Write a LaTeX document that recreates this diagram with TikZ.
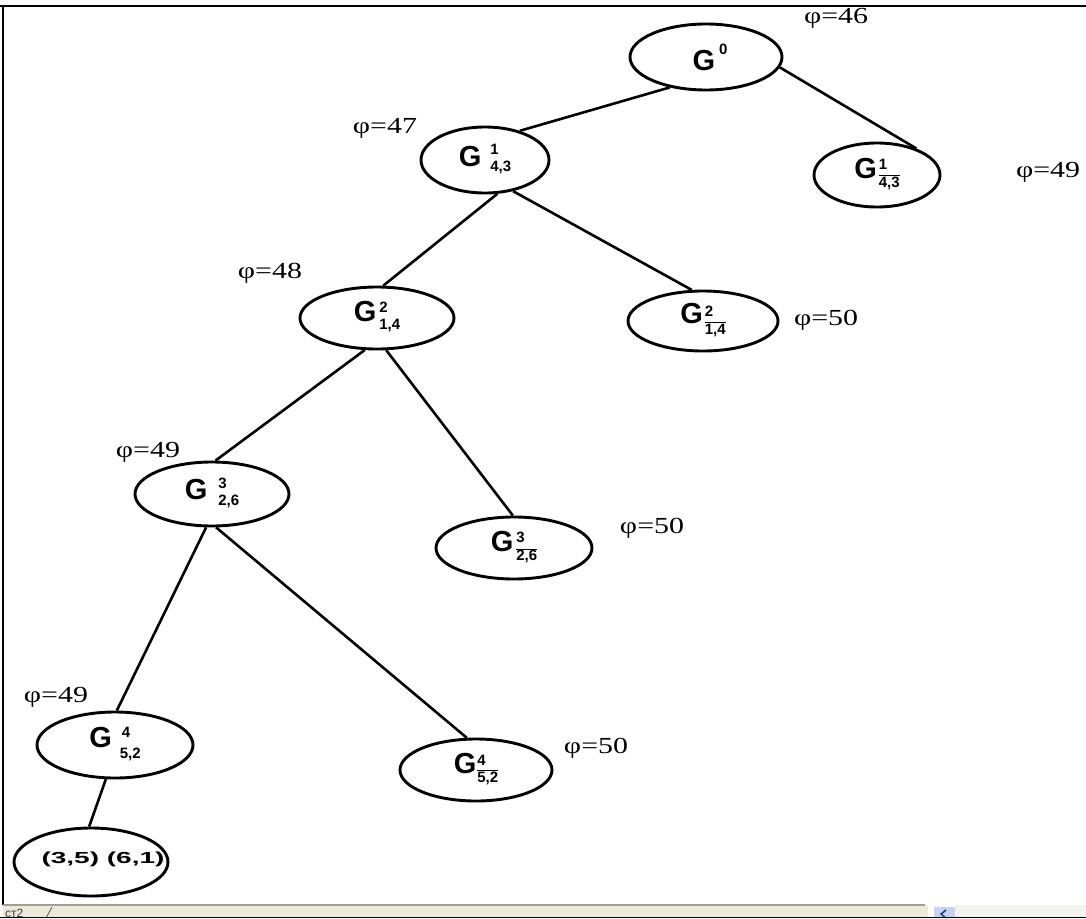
\documentclass[tikz,border=0pt]{standalone}
\usepackage{fontspec}
\setmainfont{Liberation Serif}
\setsansfont{Liberation Sans}
\usetikzlibrary{shapes.geometric}
% #1 kern, #2 raise, #3 gap, #4 sup, #5 sub
\newcommand{\gs}[5]{G\kern#1\raisebox{#2}{{\fontsize{15}{15}\selectfont\begin{tabular}[c]{@{}l@{}}#4\\[#3]#5\end{tabular}}}}
\newcommand{\phival}[1]{\scalebox{1.3}[1]{φ=#1}}
\tikzset{
  gnode/.style={ellipse, draw, line width=2.9pt, inner sep=0pt,
    font=\sffamily\bfseries\fontsize{29}{29}\selectfont},
  plabel/.style={font=\fontsize{23}{23}\selectfont, inner sep=0pt},
  edge/.style={line width=2.6pt},
}
\begin{document}
\begin{tikzpicture}[x=1pt,y=-1pt]
\useasboundingbox (0,0) rectangle (1086,918);
% frame
\draw[line width=2pt] (0,6) -- (1086,6);
\draw[line width=2pt] (3,6) -- (3,905);
\fill[fill={rgb,255:red,236;green,233;blue,216}] (3,905) rectangle (928,918);
\fill[fill={rgb,255:red,244;green,243;blue,238}] (955,905) rectangle (1086,918);
\draw[line width=1.5pt, draw={rgb,255:red,160;green,160;blue,144}] (3,905) -- (925,905);
\node[anchor=north west, inner sep=0pt, font=\sffamily\fontsize{12}{12}\selectfont, text={rgb,255:red,60;green,60;blue,60}] (tab) at (5,909) {ст2};
\draw[line width=0.8pt, draw={rgb,255:red,90;green,90;blue,90}] (46,918) -- (52,907);
\fill[fill={rgb,255:red,196;green,212;blue,244}] (934,907) rectangle (955,918);
\draw[line width=1.6pt, draw={rgb,255:red,40;green,60;blue,140}] (946,910) -- (941,914) -- (946,918);
\draw[line width=1.5pt] (0,917.5) -- (1086,917.5);

% nodes
\node[gnode, minimum width=152pt, minimum height=66pt] (g0) at (706,57) {\makebox[40pt][c]{\hspace{8pt}G\kern4pt\raisebox{16pt}{\fontsize{15}{15}\selectfont 0}}};
\node[gnode, minimum width=128pt, minimum height=66pt] (g1l) at (485,160) {\gs{9pt}{3pt}{2pt}{1}{4,3}};
\node[gnode, minimum width=126pt, minimum height=64pt] (g1r) at (877,175) {\gs{2pt}{-1pt}{1pt}{1}{$\overline{\hbox{4,3}}$}};
\node[gnode, minimum width=154pt, minimum height=62pt] (g2l) at (377,318) {\gs{3pt}{0pt}{2pt}{2}{1,4}};
\node[gnode, minimum width=150pt, minimum height=60pt] (g2r) at (703,321) {\gs{2pt}{-2pt}{1pt}{2}{$\overline{\hbox{1,4}}$}};
\node[gnode, minimum width=154pt, minimum height=64pt] (g3l) at (212,494) {\gs{11pt}{2pt}{2pt}{3}{2,6}};
\node[gnode, minimum width=156pt, minimum height=62pt] (g3r) at (514,548) {\gs{3pt}{-1pt}{1pt}{3}{$\overline{\hbox{2,6}}$}};
\node[gnode, minimum width=156pt, minimum height=66pt] (g4l) at (115,745) {\gs{8pt}{-1pt}{6pt}{\kern2pt 4}{5,2}};
\node[gnode, minimum width=152pt, minimum height=62pt] (g4r) at (476,770) {\gs{1pt}{-1pt}{0pt}{4}{$\overline{\hbox{5,2}}$}};
\node[gnode, minimum width=154pt, minimum height=68pt, font=\sffamily\bfseries\fontsize{16}{16}\selectfont] (leaf) at (91,862) {\makebox[100pt][c]{\hspace{24pt}\raisebox{8pt}{\scalebox{1.75}[1]{(3,5)\ (6,1)}}}};

% edges
\draw[edge] (g0.220) -- (g1l.40);
\draw[edge] (g0.352) -- (g1r.34);
\draw[edge] (g1l.290) -- (g2l.79);
\draw[edge] (g1l.312) -- (g2r.110);
\draw[edge] (g2l.249) -- (g3l.84);
\draw[edge] (g2l.286) -- (g3r.92);
\draw[edge] (g3l.260) -- (g4l.87);
\draw[edge] (g3l.277) -- (g4r.106);
\draw[edge] (g4l.255) -- (leaf.93);

% labels
\node[plabel] (p0) at (836,18) {\phival{46}};
\node[plabel] (p1l) at (385,128) {\phival{47}};
\node[plabel] (p1r) at (1048,172) {\phival{49}};
\node[plabel] (p2l) at (270,273) {\phival{48}};
\node[plabel] (p2r) at (826,320) {\phival{50}};
\node[plabel] (p3l) at (148,452) {\phival{49}};
\node[plabel] (p3r) at (652,528) {\phival{50}};
\node[plabel] (p4l) at (56,697) {\phival{49}};
\node[plabel] (p4r) at (596,748) {\phival{50}};
\end{tikzpicture}
\end{document}
